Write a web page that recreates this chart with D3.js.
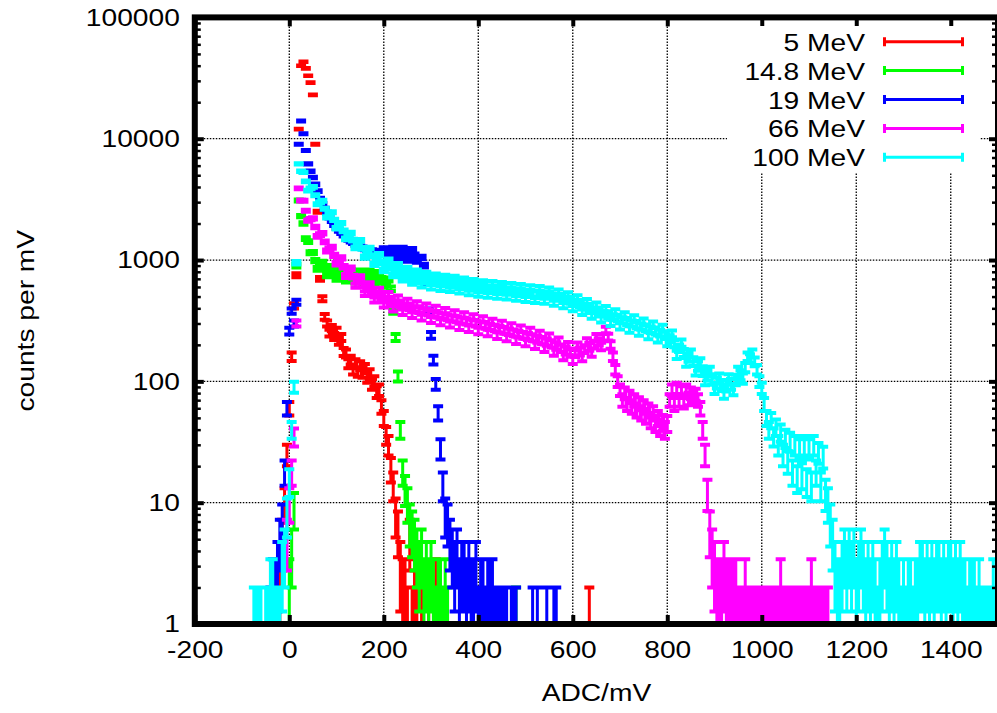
<!DOCTYPE html>
<html>
<head>
<meta charset="utf-8">
<script src="https://cdn.jsdelivr.net/npm/d3@7"></script>
<style>
  body { margin: 0; background: #fff; }
  text { font-family: "Liberation Sans", Arial, sans-serif; }
</style>
</head>
<body>
<div id="chart"></div>
<script>
// tick labels
const xTicks = [-200, 0, 200, 400, 600, 800, 1000, 1200, 1400];
const yTicks = [1, 10, 100, 1000, 10000, 100000];

const seriesLabels = ["5 MeV", "14.8 MeV", "19 MeV", "66 MeV", "100 MeV"];
const seriesColors = ["#ff0000", "#00ff00", "#0000ff", "#ff00ff", "#00ffff"];

// histogram counts per mV, bins of 5 mV starting at xxxStart, plus isolated bins
const binWidth = 5;

const redStart = -25;
const redCounts = [0, 2, 5, 10, 25, 60, 160, 420, 750, 12000, 40000, 43000, 38000, 33000, 29000, 23000, 9000, 2500, 700,
  480, 340, 300, 250, 275, 235, 260, 215, 230, 175, 170, 140, 150, 125, 140, 120, 135, 118, 128, 108, 115, 95,
  100, 82, 85, 62, 50, 36, 30, 19, 14, 8, 6, 3, 2, 2, 1, 5, 1, 2, 1, 0, 1, 0, 0, 1, 0, 0, 2];
const redExtra = [[635, 1]];

const greenStart = 0;
const greenCounts = [2, 4, 9, 900, 3100, 2300, 2000, 1500, 1420, 1150,
  1155, 990, 846, 900, 957, 850, 747, 815, 880, 790, 702, 775, 842, 760, 680, 750, 820, 742, 666, 738,
  809, 735, 660, 733, 809, 735, 659, 725, 783, 700, 617, 660, 693, 580,
  380, 230, 110, 40, 18, 13, 10, 7, 6, 5, 4, 3, 4, 2, 3, 2, 3, 2, 1, 2, 2, 1, 2, 1];
const greenExtra = [[480, 1]];

const blueStart = -40;
const blueCounts = [1, 2, 2, 3, 5, 7, 18, 60, 260, 380, 300, 450, 9000, 14000, 11000, 8000, 6200, 5400, 4800, 4200,
  3700, 3200, 2900, 2650, 2450, 2250, 2100, 1950, 1850, 1750, 1680, 1600, 1540, 1480, 1430, 1390, 1350, 1310,
  1280, 1260, 1240, 1220, 1200, 1190, 1180, 1170, 1160, 1150, 1240, 1130, 1000, 1130, 1250, 1140, 1010, 1140,
  1250, 1130, 1000, 1120, 1220, 1100, 980, 1050, 1050, 900, 650, 380, 240, 150, 95, 55, 28, 14, 8, 7, 5, 4,
  3, 4, 2, 3, 3, 2, 3, 2, 2, 3, 1, 2, 2, 1, 2, 2, 2, 1, 1, 1, 1, 1, 1, 0, 1, 1, 1];
const blueExtra = [[515, 1], [525, 1], [545, 1], [560, 1], [565, 1]];

const magentaStart = -5;
const magentaCounts = [5, 10, 18, 35, 300, 3900, 3100,
  3080, 2550, 2115, 2170, 2210, 1870, 1566, 1620, 1661, 1410, 1188, 1235, 1276, 1095, 932, 980, 1042, 880, 739, 800,
  857, 730, 616, 672, 724, 622, 528, 581, 632, 548, 469, 520, 568, 496, 427, 475, 522, 458, 396, 442,
  487, 428, 371, 416, 459, 405, 352, 395, 437, 386, 336, 377, 418, 369, 321, 361, 400, 353, 307, 346,
  383, 338, 295, 331, 367, 325, 282, 318, 353, 312, 272, 306, 339, 300, 261, 294, 326, 288, 251, 282,
  311, 275, 239, 269, 298, 263, 229, 257, 284, 251, 218, 245, 272, 240, 209, 235, 260, 229, 199, 223,
  246, 217, 188, 211, 233, 204, 176, 196, 215, 188, 162, 180, 197, 173, 151, 172, 195, 177, 159, 185,
  212, 193, 173, 201, 231, 212, 194, 230, 266, 232, 200, 160, 125, 100,
  85, 70, 80, 65, 75, 62, 70, 58, 66, 55, 62, 52, 58, 48, 55, 45, 50, 42, 46, 40, 45, 70, 85, 65, 88, 70, 82,
  68, 85, 72, 80, 75, 78, 70, 60, 40, 25, 12, 6, 4, 3, 2, 2, 2, 3, 2, 2, 2, 2, 2, 1, 1, 1, 2, 1, 1, 1, 1, 1,
  1, 1, 1, 1, 1, 1, 1, 1, 1, 2, 1, 1, 1, 1, 1, 1, 1, 1, 1, 1, 1, 1, 2, 1, 1, 1, 1, 1, 1, 1];
const magentaExtra = [];

const cyanStart = -75;
const cyanCounts = [1, 1, 1, 1, 0, 1, 1, 2, 2, 1, 1, 1, 3, 4, 8, 15, 40, 90, 950, 6200, 5400,
  5280, 4450, 3735, 3900, 4015, 3420, 2880, 3000, 3080, 2650, 2250, 2370, 2475, 2140, 1827, 1930, 2013, 1740,
  1494, 1590, 1672, 1460, 1260, 1350, 1456, 1250, 1056, 1160, 1254, 1085, 924, 1020, 1109, 960, 823, 910,
  997, 870, 748, 830, 913, 800, 691, 772, 851, 750, 651, 730, 806, 712, 620, 698, 774, 685, 597, 673,
  748, 664, 581, 656, 730, 648, 568, 641, 715, 633, 553, 623, 692, 613, 535, 604, 672, 596, 521, 590,
  657, 584, 512, 580, 646, 574, 503, 570, 635, 564, 495, 559, 623, 553, 484, 547, 609, 541, 473, 534,
  594, 526, 463, 525, 586, 521, 458, 515, 571, 505, 440, 495, 549, 484, 421, 471, 521, 458, 398, 445,
  491, 430, 372, 415, 457, 401, 347, 387, 426, 374, 324, 362, 399, 350, 304, 339, 374, 329, 285, 319,
  352, 309, 268, 300, 332, 291, 253, 283, 312, 275, 238, 267, 295, 259, 224, 250, 276, 241, 209, 225,
  247, 205, 166, 188, 207, 172, 144, 158, 170, 146, 123, 134, 143, 122, 103, 112, 121, 104, 88, 97,
  106, 93, 81, 92, 104, 95, 86, 103, 121, 113, 106, 130, 160, 155, 170, 145, 125, 100, 88, 65, 50,
  40, 48, 35, 42, 30, 38, 25, 34, 22, 32, 18, 30, 16, 28, 17, 30, 15, 28, 14, 30, 18, 26, 14, 24, 12, 10, 7, 5,
  3, 2, 2, 3, 4, 3, 4, 3, 4, 2, 3, 4, 3, 2, 3, 2, 3, 2, 1, 2, 3, 4, 3, 2, 3, 2, 3, 2, 1, 2, 1, 2, 2, 1, 2, 2,
  3, 3, 2, 3, 2, 3, 2, 3, 3, 2, 3, 2, 3, 3, 2, 3, 2, 3, 2, 2, 1, 2, 2, 2, 1, 2, 1, 1, 1, 1, 1, 2, 1];
const cyanExtra = [];

const seriesStarts = [redStart, greenStart, blueStart, magentaStart, cyanStart];
const seriesCounts = [redCounts, greenCounts, blueCounts, magentaCounts, cyanCounts];
const seriesExtras = [redExtra, greenExtra, blueExtra, magentaExtra, cyanExtra];

const W = 997, H = 713;
const fontSize = 24.5, stretch = 1.15;

const svg = d3.select("#chart").append("svg")
  .attr("width", W).attr("height", H)
  .style("background", "#fff");

const x = d3.scaleLinear().domain([-200, 1500]).range([194.8, 998]);
const y = d3.scaleLog().domain([1, 100000]).range([624, 17.4]);
const [x0, x1] = x.range();
const [yb, yt] = y.range();

// grid (behind data)
const grid = svg.append("g").attr("stroke", "#000").attr("stroke-width", 1.3)
  .attr("stroke-dasharray", "1.5,1.5");
xTicks.slice(1).forEach(t => {
  grid.append("line").attr("x1", x(t)).attr("x2", x(t)).attr("y1", yt).attr("y2", yb);
});
yTicks.slice(1, -1).forEach(t => {
  grid.append("line").attr("x1", x0).attr("x2", x1).attr("y1", y(t)).attr("y2", y(t));
});

// clip
svg.append("clipPath").attr("id", "plotclip")
  .append("rect").attr("x", x0).attr("y", yt).attr("width", x1 - x0).attr("height", yb - yt);

const capW = 10;
const plot = svg.append("g").attr("clip-path", "url(#plotclip)");

// y error bars: value +- sqrt(value)
seriesCounts.forEach((counts, s) => {
  const pts = counts.map((n, i) => [seriesStarts[s] + i * binWidth, n])
    .concat(seriesExtras[s])
    .filter(d => d[1] > 0);
  let stems = "", caps = "";
  pts.forEach(([v, n]) => {
    const e = Math.sqrt(n);
    const px = x(v);
    const top = y(n + e);
    const lo = n - e;
    const bot = lo >= 1 ? y(lo) : yb + 10;
    stems += `M${px},${top}V${bot}`;
    caps += `M${px - capW / 2},${top}H${px + capW / 2}`;
    if (lo >= 1) caps += `M${px - capW / 2},${bot}H${px + capW / 2}`;
  });
  const g = plot.append("g").attr("fill", "none").attr("stroke", seriesColors[s]);
  g.append("path").attr("d", stems).attr("stroke-width", 3);
  g.append("path").attr("d", caps).attr("stroke-width", 4);
});

// axes
const fmt = d => String(d);
function styleAxis(g) {
  g.select(".domain").remove();
  g.selectAll(".tick line").attr("stroke", "#000").attr("stroke-width", 4);
  g.selectAll(".tick text")
    .attr("font-family", "'Liberation Sans', Arial, sans-serif")
    .attr("font-size", fontSize)
    .attr("fill", "#000")
    .attr("transform", `scale(${stretch},1)`);
}

const minorY = [];
for (let k = 0; k < 5; k++) for (let m = 2; m <= 9; m++) minorY.push(m * Math.pow(10, k));

svg.append("g").attr("transform", `translate(0,${yb})`)
  .call(d3.axisBottom(x).tickValues(xTicks).tickSize(-9).tickPadding(17).tickFormat(fmt))
  .call(styleAxis);
svg.append("g").attr("transform", `translate(0,${yt})`)
  .call(d3.axisTop(x).tickValues(xTicks).tickSize(-9).tickFormat(""))
  .call(styleAxis);
svg.append("g").attr("transform", `translate(${x0},0)`)
  .call(d3.axisLeft(y).tickValues(yTicks).tickSize(-9).tickPadding(13).tickFormat(fmt))
  .call(styleAxis);
svg.append("g").attr("transform", `translate(${x1},0)`)
  .call(d3.axisRight(y).tickValues(yTicks).tickSize(-9).tickFormat(""))
  .call(styleAxis);
svg.append("g").attr("transform", `translate(${x0},0)`)
  .call(d3.axisLeft(y).tickValues(minorY).tickSize(-6).tickFormat(""))
  .call(styleAxis).selectAll(".tick line").attr("stroke-width", 2.5);
svg.append("g").attr("transform", `translate(${x1},0)`)
  .call(d3.axisRight(y).tickValues(minorY).tickSize(-6).tickFormat(""))
  .call(styleAxis).selectAll(".tick line").attr("stroke-width", 2.5);

// border
svg.append("rect")
  .attr("x", x0).attr("y", yt).attr("width", x1 - x0).attr("height", yb - yt)
  .attr("fill", "none").attr("stroke", "#000").attr("stroke-width", 6);

// axis titles
svg.append("text")
  .attr("transform", `translate(${(x0 + x1) / 2},701) scale(${stretch},1)`)
  .attr("text-anchor", "middle").attr("font-size", fontSize)
  .text("ADC/mV");
svg.append("text")
  .attr("transform", `translate(34,${(yt + yb) / 2}) rotate(-90) scale(${stretch},1)`)
  .attr("text-anchor", "middle").attr("font-size", fontSize)
  .text("counts per mV");

// legend
const legend = svg.append("g");
legend.append("rect").attr("x", 727).attr("y", 26).attr("width", 253).attr("height", 146).attr("fill", "#fff");
seriesLabels.forEach((lab, i) => {
  const ry = 41.7 + i * 28.9;
  legend.append("text")
    .attr("transform", `translate(865,${ry + 9}) scale(${stretch},1)`)
    .attr("text-anchor", "end").attr("font-size", fontSize)
    .text(lab);
  legend.append("path")
    .attr("d", `M883,${ry}H964M884.5,${ry - 4.5}V${ry + 4.5}M962.5,${ry - 4.5}V${ry + 4.5}`)
    .attr("fill", "none").attr("stroke", seriesColors[i]).attr("stroke-width", 3);
});
</script>
</body>
</html>
